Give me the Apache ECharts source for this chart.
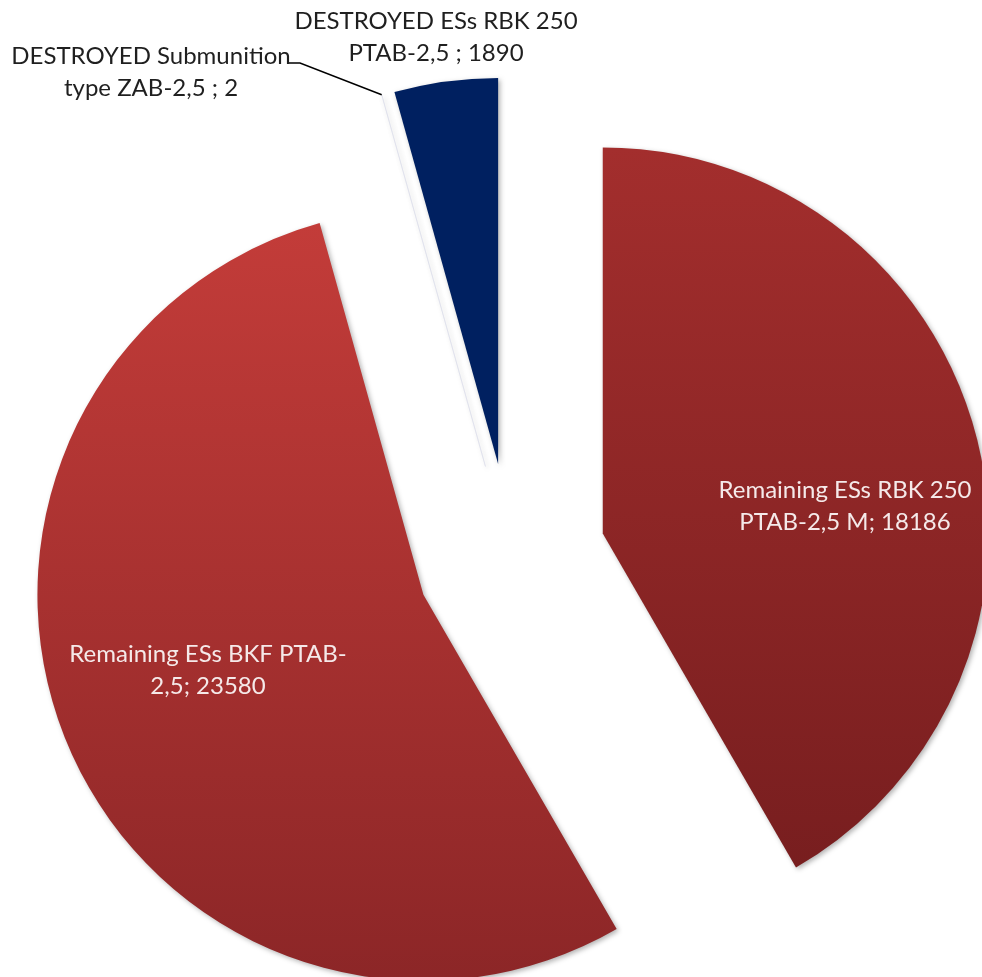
<!DOCTYPE html>
<html>
<head>
<meta charset="utf-8">
<script src="https://cdn.jsdelivr.net/npm/echarts@6/dist/echarts.min.js"></script>
<style>
html,body{margin:0;padding:0;background:#fff;}
#chart{width:982px;height:977px;}
</style>
</head>
<body>
<div id="chart"></div>
<script>
// Slices in clockwise order starting at 12 o'clock
const categories = [
  'Remaining ESs RBK 250\nPTAB-2,5 M',
  'Remaining ESs BKF PTAB-\n2,5',
  'DESTROYED Submunition\ntype ZAB-2,5 ',
  'DESTROYED ESs RBK 250\nPTAB-2,5 '
];
const values = [18186, 23580, 2, 1890];

// styling (not data)
const CENTER = [511, 558];
const RADIUS = 386;
const OFFSET = 95;
const fills = [
  {type:'linear',x:0,y:0,x2:0,y2:1,colorStops:[{offset:0,color:'#a32e2d'},{offset:1,color:'#781e1f'}]},
  {type:'linear',x:0,y:0,x2:0,y2:1,colorStops:[{offset:0,color:'#c33c39'},{offset:1,color:'#8c2627'}]},
  '#f0f1f7',
  '#002060'
];
const labelColors = ['#f5e9e9','#f5e9e9','#1f1f1f','#1f1f1f'];
const labelPos = [
  {x:845, y:506},
  {x:208, y:670},
  {x:151, y:72},
  {x:436, y:37}
];
const FONT = 'Lato, "Open Sans", sans-serif';

const chart = echarts.init(document.getElementById('chart'), null, {renderer:'canvas'});
const data = categories.map((n,i)=>({
  name:n,
  value:values[i],
  selected:true,
  itemStyle:{
    color:fills[i],
    borderColor: i===2 ? '#d8dbe8' : 'transparent',
    borderWidth: i===2 ? 0.5 : 0
  }
}));

// leader line anchor for the tiny slice, computed from the data
const total = values.reduce((a,b)=>a+b,0);
let cum = 0;
for (let i=0;i<2;i++) cum += values[i];
const midFrac = (cum + values[2]/2)/total;
const ang = midFrac*2*Math.PI; // clockwise from 12 o'clock
const dir = [Math.sin(ang), -Math.cos(ang)];
const anchor = [CENTER[0] + (OFFSET+RADIUS)*dir[0], CENTER[1] + (OFFSET+RADIUS)*dir[1]];

const texts = categories.map((n,i)=>({
  type:'text',
  silent:true,
  z:100,
  style:{
    text: n + '; ' + values[i],
    x: labelPos[i].x,
    y: labelPos[i].y,
    align:'center',
    verticalAlign:'middle',
    fontFamily:FONT,
    fontSize:24,
    lineHeight:32,
    fill:labelColors[i]
  }
}));

chart.setOption({
  animation:false,
  backgroundColor:'#fff',
  graphic:[
    ...texts,
    {
      type:'polyline',
      silent:true,
      z:99,
      shape:{points:[[289,63],[300,63],anchor]},
      style:{stroke:'#000',lineWidth:1.5,fill:null}
    }
  ],
  series:[{
    type:'pie',
    center:CENTER,
    radius:[0,RADIUS],
    startAngle:90,
    clockwise:true,
    selectedMode:'multiple',
    selectedOffset:OFFSET,
    avoidLabelOverlap:false,
    minAngle:0,
    itemStyle:{
      shadowBlur:5,
      shadowOffsetX:2,
      shadowOffsetY:2,
      shadowColor:'rgba(0,0,0,0.3)'
    },
    emphasis:{disabled:true},
    label:{show:false},
    labelLine:{show:false},
    data:data
  }]
});
</script>
</body>
</html>
